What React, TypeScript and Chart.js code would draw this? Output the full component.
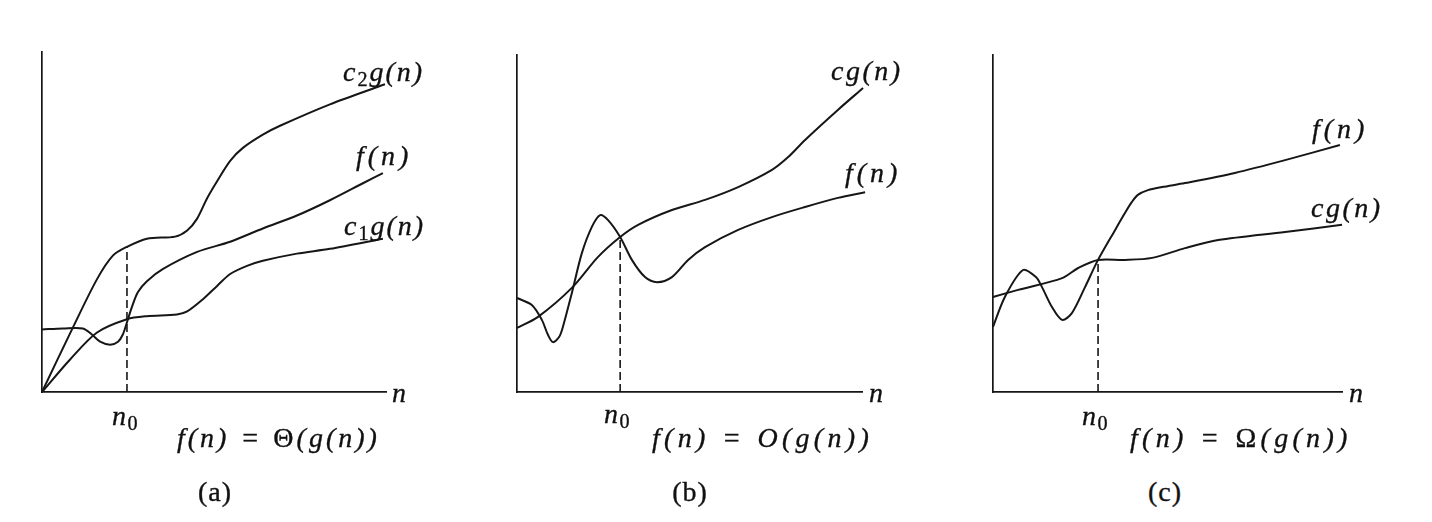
import React, { useEffect, useRef } from "react";
import { Chart, registerables } from "chart.js";

Chart.register(...registerables);

// ---------- Data (arbitrary units: n on 0..100, value on 0..100) ----------
// Panel (a): f(n) = Θ(g(n))
const thetaUpperX = [0, 9.0, 16.0, 20.6, 24.7, 30.5, 38.7, 42.2, 45.1, 48.0, 50.9, 54.7, 58.4, 64.2, 69.2, 83.7, 99.7];
const thetaUpperY = [0, 19.0, 33.2, 40.1, 42.7, 45.1, 45.7, 47.5, 51.0, 57.0, 62.0, 68.0, 71.8, 75.7, 78.3, 84.6, 90.5];
const thetaFX = [0, 6.1, 11.9, 14.5, 16.9, 19.8, 22.1, 23.5, 24.7, 26.2, 27.9, 30.5, 35.2, 45.1, 54.7, 64.2, 74.1, 83.7, 93.3, 99.1];
const thetaFY = [18.4, 18.7, 18.7, 16.9, 14.8, 13.9, 14.8, 16.9, 20.5, 25.2, 29.4, 32.6, 36.2, 41.2, 44.2, 48.1, 51.9, 56.4, 61.4, 64.4];
const thetaLowerX = [0, 8.1, 16.0, 24.7, 30.5, 39.2, 42.2, 46.8, 50.9, 54.7, 59.6, 64.2, 74.1, 83.7, 99.1];
const thetaLowerY = [0, 9.5, 17.5, 21.4, 22.3, 22.8, 23.7, 27.3, 31.2, 34.7, 37.1, 38.6, 40.7, 42.1, 45.1];
const thetaN0 = 24.7;
const thetaN0Top = 42.7;

// Panel (b): f(n) = O(g(n))
const bigOGX = [0, 6.1, 15.9, 23.5, 29.9, 35.1, 44.9, 54.5, 64.1, 73.9, 78.6, 83.5, 93.0, 100.3];
const bigOGY = [19.0, 22.3, 30.9, 40.1, 46.0, 49.6, 54.0, 57.0, 60.8, 65.9, 69.7, 74.8, 83.7, 90.2];
const bigOFX = [0, 4.3, 7.2, 9.0, 10.4, 12.2, 13.3, 15.9, 18.8, 21.7, 24.1, 26.4, 29.9, 33.3, 37.1, 40.6, 44.9, 49.6, 54.5, 64.1, 73.9, 83.5, 93.0, 100.9];
const bigOFY = [27.9, 25.8, 21.4, 16.9, 14.8, 16.3, 19.3, 29.4, 41.2, 49.0, 52.5, 51.0, 46.0, 39.2, 34.1, 32.6, 34.1, 39.2, 43.0, 48.1, 51.9, 54.9, 57.6, 59.3];
const bigON0 = 29.9;
const bigON0Top = 46.0;

// Panel (c): f(n) = Ω(g(n))
const omegaGX = [0, 7.2, 19.8, 24.4, 30.1, 37.8, 45.6, 55.0, 64.5, 83.7, 100];
const omegaGY = [28.2, 30.3, 33.8, 36.8, 39.2, 39.2, 39.8, 42.7, 45.1, 47.5, 49.6];
const omegaFX = [0, 3.4, 8.6, 12.3, 14.0, 16.9, 19.8, 22.6, 26.4, 30.1, 35.0, 37.8, 39.8, 41.5, 44.4, 48.4, 55.0, 69.3, 83.7, 99.4];
const omegaFY = [19.3, 28.2, 36.2, 34.1, 31.2, 25.2, 21.4, 23.4, 31.2, 39.2, 48.1, 53.1, 56.4, 58.5, 59.9, 60.8, 62.0, 65.0, 68.8, 73.3];
const omegaN0 = 30.1;
const omegaN0Top = 39.2;

const INK = "#161616";
const SERIF = '"Liberation Serif", "DejaVu Serif", "Times New Roman", serif';

const zip = (xs: number[], ys: number[]) => xs.map((x, i) => ({ x, y: ys[i] }));

type PanelProps = {
  left: number;
  top: number;
  right: number;
  bottom: number;
  curves: { x: number[]; y: number[] }[];
  n0: number;
  n0Top: number;
};

function PanelChart({ left, top, right, bottom, curves, n0, n0Top }: PanelProps) {
  const ref = useRef<HTMLCanvasElement | null>(null);
  const pad = 14;
  const w = right - left + pad * 2;
  const h = bottom - top + pad * 2;

  useEffect(() => {
    if (!ref.current) return;
    const datasets: any[] = curves.map((c) => ({
      data: zip(c.x, c.y),
      borderColor: INK,
      borderWidth: 2,
      pointRadius: 0,
      fill: false,
      tension: 0.3,
      clip: false,
    }));
    datasets.push({
      data: [
        { x: n0, y: 0 },
        { x: n0, y: n0Top },
      ],
      borderColor: INK,
      borderWidth: 1.6,
      borderDash: [8, 4],
      pointRadius: 0,
      fill: false,
      tension: 0,
      clip: false,
    });
    const axis = (min: number, max: number) => ({
      type: "linear" as const,
      min,
      max,
      grid: { display: false, drawTicks: false },
      ticks: { display: false },
      border: { display: true, color: INK, width: 1.7 },
    });
    const chart = new Chart(ref.current, {
      type: "line",
      data: { datasets },
      options: {
        responsive: false,
        animation: false,
        events: [],
        layout: { padding: pad },
        plugins: {
          legend: { display: false },
          tooltip: { enabled: false },
          title: { display: false },
        },
        scales: {
          x: axis(0, 100),
          y: axis(0, 100),
        },
      },
    });
    return () => chart.destroy();
  }, []);

  return (
    <canvas
      ref={ref}
      width={w}
      height={h}
      style={{ position: "absolute", left: left - pad, top: top - pad, width: w, height: h }}
    />
  );
}

type TextProps = {
  x: number;
  baseline: number;
  size?: number;
  italic?: boolean;
  ls?: number;
  center?: boolean;
  children: React.ReactNode;
};

function Txt({ x, baseline, size = 28, italic = true, ls = 3, center = false, children }: TextProps) {
  const topPos = baseline - 0.8375 * size;
  return (
    <div
      style={{
        position: "absolute",
        left: center ? x - 100 : x,
        width: center ? 200 : undefined,
        textAlign: center ? "center" : "left",
        top: topPos,
        fontFamily: SERIF,
        fontSize: size,
        lineHeight: `${size}px`,
        fontStyle: italic ? "italic" : "normal",
        letterSpacing: ls,
        wordSpacing: 1,
        whiteSpace: "nowrap",
        color: "#111",
        WebkitTextStroke: "0.35px #111",
      }}
    >
      {children}
    </div>
  );
}

const Sub = ({ children }: { children: React.ReactNode }) => (
  <span style={{ fontStyle: "normal", fontSize: "0.72em", position: "relative", top: 5 }}>{children}</span>
);

const Up = ({ children }: { children: React.ReactNode }) => (
  <span style={{ fontStyle: "normal" }}>{children}</span>
);

export default function App() {
  return (
    <div
      style={{
        position: "fixed",
        left: 0,
        top: 0,
        width: 1432,
        height: 522,
        background: "#fff",
        overflow: "hidden",
      }}
    >
      <PanelChart
        left={42}
        top={52}
        right={386}
        bottom={392}
        curves={[
          { x: thetaUpperX, y: thetaUpperY },
          { x: thetaFX, y: thetaFY },
          { x: thetaLowerX, y: thetaLowerY },
        ]}
        n0={thetaN0}
        n0Top={thetaN0Top}
      />
      <PanelChart
        left={517}
        top={55}
        right={862}
        bottom={392}
        curves={[
          { x: bigOGX, y: bigOGY },
          { x: bigOFX, y: bigOFY },
        ]}
        n0={bigON0}
        n0Top={bigON0Top}
      />
      <PanelChart
        left={993}
        top={55}
        right={1342}
        bottom={392}
        curves={[
          { x: omegaGX, y: omegaGY },
          { x: omegaFX, y: omegaFY },
        ]}
        n0={omegaN0}
        n0Top={omegaN0Top}
      />

      {/* Panel (a) labels */}
      <Txt x={343} baseline={81} ls={2}>
        c<Sub>2</Sub>g(n)
      </Txt>
      <Txt x={356} baseline={165} ls={4}>
        f(n)
      </Txt>
      <Txt x={344} baseline={235} ls={2}>
        c<Sub>1</Sub>g(n)
      </Txt>
      <Txt x={392} baseline={402}>n</Txt>
      <Txt x={112} baseline={425} ls={1.5}>
        n<Sub>0</Sub>
      </Txt>
      <Txt x={177} baseline={447} ls={3}>
        f(n) = <Up>Θ</Up>(g(n))
      </Txt>
      <Txt x={215} baseline={501} size={28} italic={false} ls={1} center>
        (a)
      </Txt>

      {/* Panel (b) labels */}
      <Txt x={831} baseline={80} ls={2.5}>
        cg(n)
      </Txt>
      <Txt x={845} baseline={182} ls={4}>
        f(n)
      </Txt>
      <Txt x={869} baseline={402}>n</Txt>
      <Txt x={604} baseline={423} ls={1.5}>
        n<Sub>0</Sub>
      </Txt>
      <Txt x={652} baseline={447} ls={4.3}>
        f(n) = O(g(n))
      </Txt>
      <Txt x={690} baseline={501} size={28} italic={false} ls={1} center>
        (b)
      </Txt>

      {/* Panel (c) labels */}
      <Txt x={1312} baseline={138} ls={4}>
        f(n)
      </Txt>
      <Txt x={1311} baseline={217} ls={2.5}>
        cg(n)
      </Txt>
      <Txt x={1349} baseline={402}>n</Txt>
      <Txt x={1082} baseline={425} ls={1.5}>
        n<Sub>0</Sub>
      </Txt>
      <Txt x={1130} baseline={447} ls={4.3}>
        f(n) = <Up>Ω</Up>(g(n))
      </Txt>
      <Txt x={1165} baseline={501} size={28} italic={false} ls={1} center>
        (c)
      </Txt>
    </div>
  );
}
